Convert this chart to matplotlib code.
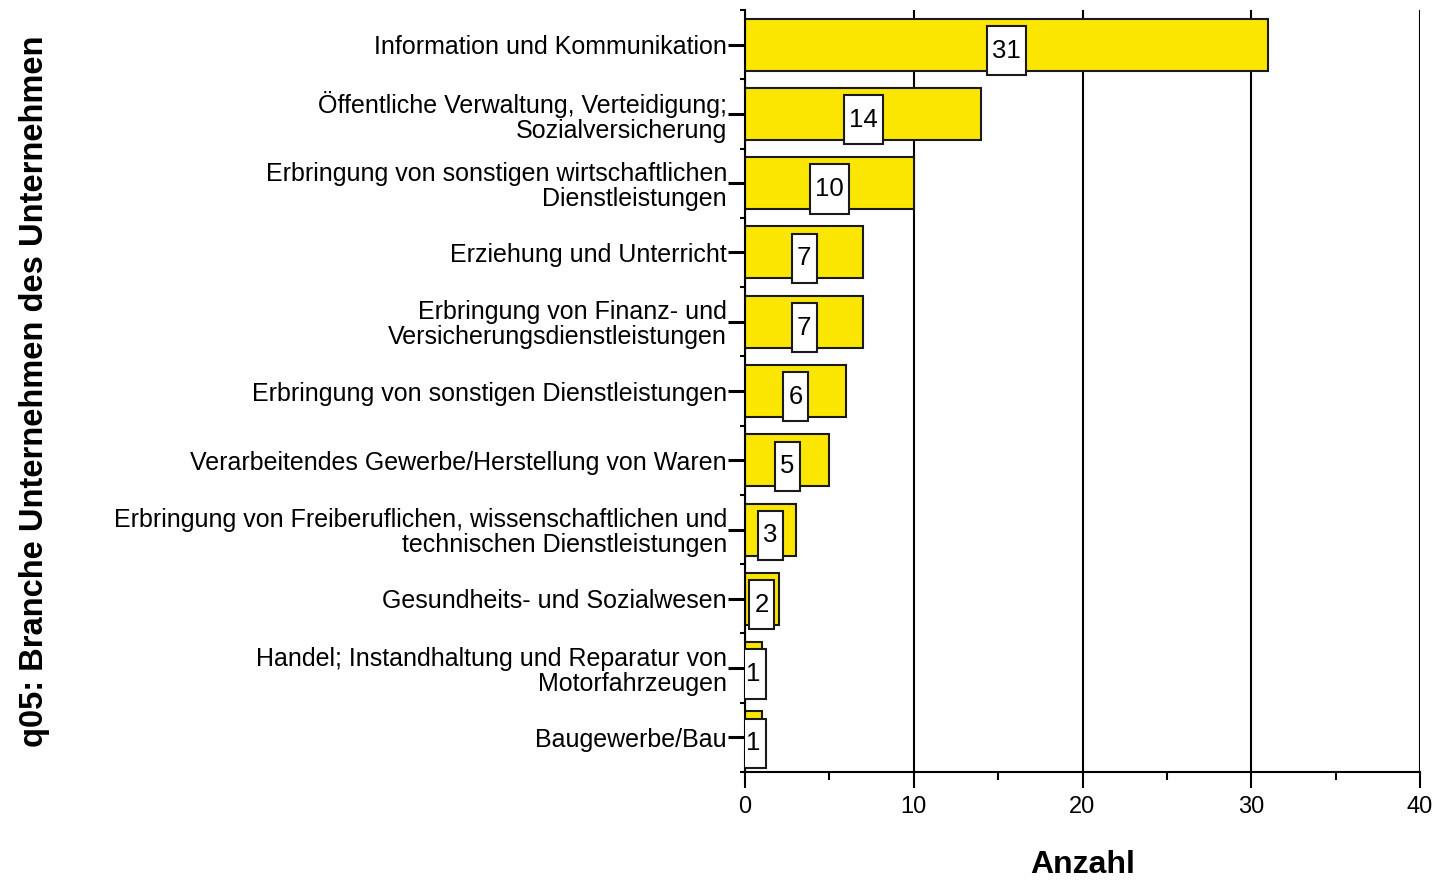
import numpy as np
import matplotlib
matplotlib.use("Agg")
import matplotlib.pyplot as plt
from matplotlib.patches import Rectangle
from matplotlib.ticker import MultipleLocator, FixedLocator

plt.rcParams["font.family"] = ["Liberation Sans", "DejaVu Sans"]

categories = [
    "Information und Kommunikation",
    "Öffentliche Verwaltung, Verteidigung;\nSozialversicherung",
    "Erbringung von sonstigen wirtschaftlichen\nDienstleistungen",
    "Erziehung und Unterricht",
    "Erbringung von Finanz- und\nVersicherungsdienstleistungen",
    "Erbringung von sonstigen Dienstleistungen",
    "Verarbeitendes Gewerbe/Herstellung von Waren",
    "Erbringung von Freiberuflichen, wissenschaftlichen und\ntechnischen Dienstleistungen",
    "Gesundheits- und Sozialwesen",
    "Handel; Instandhaltung und Reparatur von\nMotorfahrzeugen",
    "Baugewerbe/Bau",
]
counts = [31, 14, 10, 7, 7, 6, 5, 3, 2, 1, 1]
x_ticks = [0, 10, 20, 30, 40]

fig = plt.figure(figsize=(14.34, 8.83), dpi=100)
ax = fig.add_axes([745 / 1434, 1 - 772 / 883, 675 / 1434, 762 / 883])

ypos = np.arange(len(categories))
ax.barh(ypos, counts, height=0.75, color="#FAE600", edgecolor="#1a1a1a",
        linewidth=1.5, zorder=2)

# value labels in white boxes at the bar midpoint
for y, v in zip(ypos, counts):
    w = 0.65 + 0.83 * len(str(v))
    ax.add_patch(Rectangle((v / 2 - w / 2, y + 0.085 - 0.355), w, 0.71,
                           facecolor="white", edgecolor="#1a1a1a",
                           linewidth=1.5, zorder=3))
    ax.text(v / 2, y + 0.085, str(v), ha="center", va="center",
            fontsize=18.5, zorder=4)

ax.set_xlim(0, 40)
ax.set_ylim(len(categories) - 0.5, -0.5)
ax.set_xticks(x_ticks)
ax.xaxis.set_minor_locator(MultipleLocator(5))
ax.set_yticks(ypos)
ax.set_yticklabels(categories, fontsize=18, linespacing=1.05)
ax.yaxis.set_minor_locator(FixedLocator(np.arange(-0.5, len(categories), 1.0)))

ax.tick_params(axis="x", which="major", length=11.5, width=1.5, pad=6,
               labelsize=17, direction="out")
ax.tick_params(axis="x", which="minor", length=5.8, width=1.5, direction="out")
ax.tick_params(axis="y", which="major", length=12, width=2.2, pad=1,
               direction="out")
ax.tick_params(axis="y", which="minor", length=3.6, width=1.5, direction="out")

ax.grid(axis="x", which="major", color="black", linewidth=1.5, zorder=0)
ax.set_axisbelow(True)
for s in ["top", "right"]:
    ax.spines[s].set_visible(False)
for s in ["left", "bottom"]:
    ax.spines[s].set_linewidth(1.5)

ax.set_xlabel("Anzahl", fontsize=23, fontweight="bold")
ax.xaxis.set_label_coords(0.5, -0.103)
ax.set_ylabel("q05: Branche Unternehmen des Unternehmen", fontsize=23.5,
              fontweight="bold")
ax.yaxis.set_label_coords(-1.03, 0.5)

fig.savefig("out.png", dpi=100)
